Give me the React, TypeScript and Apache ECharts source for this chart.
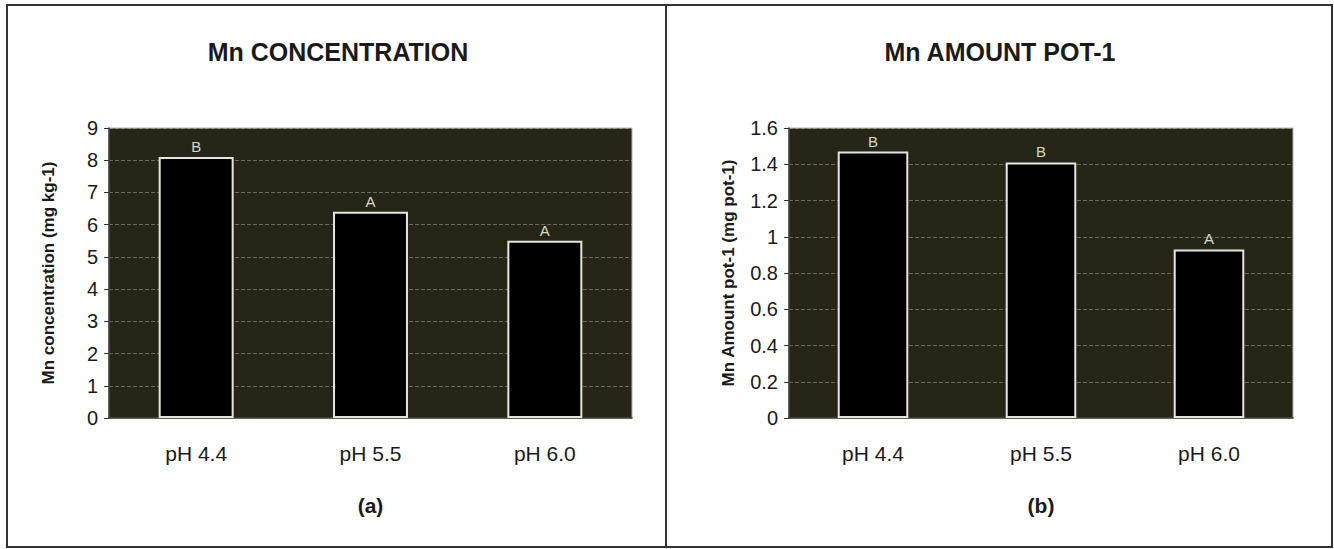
import React, { useEffect, useRef } from "react";
import * as echarts from "echarts";

const categories = ["pH 4.4", "pH 5.5", "pH 6.0"];
const concentration = [8.1, 6.4, 5.5];
const concentrationLetters = ["B", "A", "A"];
const amount = [1.47, 1.41, 0.93];
const amountLetters = ["B", "B", "A"];

const titleA = "Mn CONCENTRATION";
const titleB = "Mn AMOUNT POT-1";
const yNameA = "Mn concentration (mg kg-1)";
const yNameB = "Mn Amount pot-1 (mg pot-1)";

export default function App() {
  const ref = useRef<HTMLDivElement>(null);

  useEffect(() => {
    if (!ref.current) return;
    const chart = echarts.init(ref.current, undefined, { renderer: "svg" });

    const font = "Arial, Liberation Sans";
    const plotBg = "#262618";
    const grid = (left: number, width: number) => ({
      left,
      top: 128,
      width,
      height: 290,
      show: true,
      backgroundColor: plotBg,
      borderColor: "#b8b8a8",
      borderWidth: 1,
    });

    const xAxis = (gridIndex: number, name: string) => ({
      type: "category",
      gridIndex,
      data: categories,
      name,
      nameLocation: "middle",
      nameGap: 77,
      nameTextStyle: { fontFamily: font, fontSize: 21, fontWeight: "bold", color: "#1a1a1a" },
      axisLine: { show: true, lineStyle: { color: "#333", width: 1.5 } },
      axisTick: { show: false },
      axisLabel: { margin: 25, fontFamily: font, fontSize: 21, color: "#1a1a1a" },
    });

    const yAxis = (gridIndex: number, max: number, interval: number, name: string) => ({
      type: "value",
      gridIndex,
      min: 0,
      max,
      interval,
      name,
      nameLocation: "middle",
      nameGap: 52,
      nameTextStyle: { fontFamily: font, fontSize: 17, fontWeight: "bold", color: "#1a1a1a" },
      axisLine: { show: true, lineStyle: { color: "#333", width: 1.5 } },
      axisTick: { show: true, inside: false, length: 5, lineStyle: { color: "#333" } },
      axisLabel: { margin: 11, fontFamily: font, fontSize: 20, color: "#1a1a1a" },
      splitLine: { show: true, lineStyle: { color: "rgba(215,215,185,0.4)", type: "dashed", width: 1 } },
    });

    const barSeries = (idx: number, values: number[], letters: string[], width: string) => ({
      type: "bar",
      xAxisIndex: idx,
      yAxisIndex: idx,
      barWidth: width,
      data: values,
      itemStyle: { color: "#000", borderColor: "#e6e6dc", borderWidth: 2 },
      label: {
        show: true,
        position: "top",
        distance: 3,
        fontFamily: font,
        fontSize: 15,
        color: "#d6d6c4",
        formatter: (p: any) => letters[p.dataIndex],
      },
    });

    chart.setOption({
      animation: false,
      backgroundColor: "#ffffff",
      title: [
        {
          text: titleA,
          left: 338,
          top: 39,
          textAlign: "center",
          padding: 0,
          textStyle: { fontFamily: font, fontSize: 25, fontWeight: "bold", color: "#1a1a1a" },
        },
        {
          text: titleB,
          left: 1000,
          top: 39,
          textAlign: "center",
          padding: 0,
          textStyle: { fontFamily: font, fontSize: 25, fontWeight: "bold", color: "#1a1a1a" },
        },
      ],
      grid: [grid(109, 523), grid(789, 504)],
      xAxis: [xAxis(0, "(a)"), xAxis(1, "(b)")],
      yAxis: [yAxis(0, 9, 1, yNameA), yAxis(1, 1.6, 0.2, yNameB)],
      series: [
        barSeries(0, concentration, concentrationLetters, "43%"),
        barSeries(1, amount, amountLetters, "42%"),
      ],
      graphic: [
        {
          type: "rect",
          shape: { x: 7, y: 5, width: 1325, height: 542 },
          style: { fill: "none", stroke: "#333", lineWidth: 2 },
          silent: true,
        },
        {
          type: "line",
          shape: { x1: 666, y1: 5, x2: 666, y2: 547 },
          style: { stroke: "#333", lineWidth: 2 },
          silent: true,
        },
      ],
    });

    return () => chart.dispose();
  }, []);

  return (
    <div
      ref={ref}
      style={{ position: "fixed", left: 0, top: 0, width: 1334, height: 549, background: "#fff" }}
    />
  );
}
